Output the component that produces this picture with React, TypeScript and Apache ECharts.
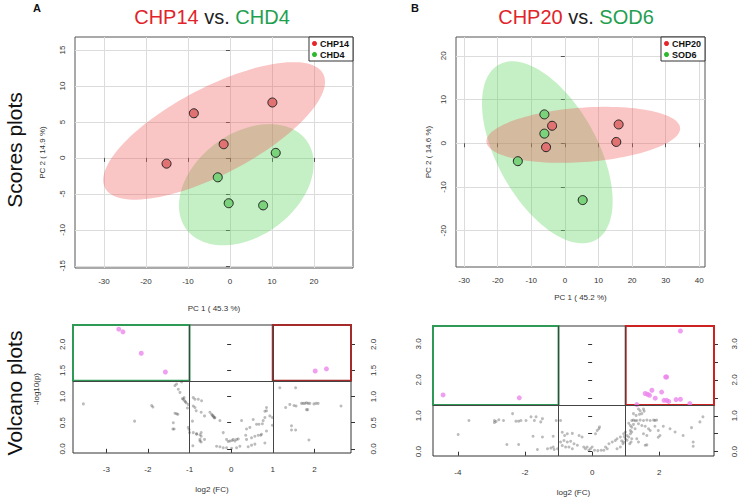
import React, { useEffect, useRef } from 'react';
import * as echarts from 'echarts';

const FONT = '"Liberation Sans", Arial, Helvetica, sans-serif';

// ---- Panel A scores (PC1, PC2) ----
const chp14PC1 = [-15.1, -8.6, -1.5, 10.1];
const chp14PC2 = [-0.8, 6.2, 1.9, 7.7];
const chd4PC1 = [-2.9, 10.9, -0.3, 7.9];
const chd4PC2 = [-2.7, 0.7, -6.3, -6.6];

// ---- Panel B scores (PC1, PC2) ----
const chp20PC1 = [-3.8, -5.6, 16.0, 15.3];
const chp20PC2 = [4.0, -0.9, 4.3, 0.3];
const sod6PC1 = [-6.1, -6.1, -14.0, 5.3];
const sod6PC2 = [6.6, 2.2, -4.1, -13.0];

// ---- Tick values ----
const scoresATicksX = [-30, -20, -10, 0, 10, 20];
const scoresATicksY = [-15, -10, -5, 0, 5, 10, 15];
const scoresBTicksX = [-30, -20, -10, 0, 10, 20, 30, 40];
const scoresBTicksY = [-20, -10, 0, 10, 20];
const volcanoATicksX = [-3, -2, -1, 0, 1, 2];
const volcanoATicksY = [0, 0.5, 1, 1.5, 2];
const volcanoBTicksX = [-4, -2, 0, 2];
const volcanoBTicksY = [0, 0.5, 1, 1.5, 2, 2.5, 3];
const volcanoBLabelsY = [0, 1, 2, 3];

// ---- Volcano A: [log2(FC), -log10(p)] ----
const volcanoAGray = [
  [-3.55, 0.86], [-2.32, 0.53], [-1.91, 0.83], [-1.88, 0.8], [-1.4, 0.38], [-1.39, 0.5], [-1.35, 1.21], [-1.31, 1.24],
  [-1.31, 0.67], [-1.28, 0.66], [-1.27, 1.14], [-1.23, 1.08], [-1.19, 1.28], [-1.35, 0.68], [-1.15, 0.95], [-1.12, 0.92],
  [-1.08, 0.88], [-1.03, 0.85], [-1.37, 0.38], [-1.03, 0.41], [-1.01, 0.37], [-1.0, 0.31], [-1.17, 0.96], [-1.13, 0.98],
  [-1.1, 0.9], [-1.05, 0.78], [-0.91, 0.98], [-0.87, 0.95], [-0.79, 0.95], [-0.71, 0.92], [-0.91, 0.82], [-0.87, 0.79],
  [-0.84, 0.73], [-0.72, 0.7], [-0.64, 0.63], [-0.51, 0.7], [-0.47, 0.66], [-0.45, 0.64], [-0.43, 0.63], [-0.42, 0.61],
  [-0.4, 0.59], [-0.39, 0.6], [-0.27, 0.54], [-0.93, 0.53], [-0.91, 0.31], [-0.83, 0.28], [-0.75, 0.27], [-0.72, 0.31],
  [-0.83, 0.29], [-0.72, 0.24], [-0.75, 0.15], [-0.75, 0.18], [-0.72, 0.13], [-0.64, 0.18], [-0.92, 0.06], [-0.19, 0.31],
  [-0.11, 0.18], [-0.07, 0.14], [-0.03, 0.15], [0.02, 0.16], [0.05, 0.18], [0.09, 0.15], [0.13, 0.18], [0.17, 0.19],
  [-0.35, 0.05], [-0.27, 0.04], [-0.19, 0.02], [-0.11, 0.02], [0.01, 0.01], [0.13, 0.02], [0.21, 0.05], [0.25, 0.54],
  [0.37, 0.38], [0.45, 0.41], [0.35, 0.26], [0.37, 0.18], [0.49, 0.21], [0.57, 0.24], [0.65, 0.26], [0.71, 0.26],
  [0.73, 0.28], [0.41, 0.04], [0.49, 0.07], [0.57, 0.09], [0.53, 0.56], [0.61, 0.47], [0.67, 0.47], [0.75, 0.48],
  [0.77, 0.54], [0.81, 0.6], [0.81, 0.72], [0.85, 0.73], [0.85, 0.79], [0.93, 0.63], [0.85, 0.34], [0.81, 0.11],
  [0.99, 0.45], [0.99, 0.6], [1.17, 1.17], [1.55, 1.17], [1.31, 0.79], [1.41, 0.85], [1.51, 0.83], [1.56, 0.82],
  [1.69, 0.87], [1.73, 0.87], [1.77, 0.87], [1.81, 0.88], [1.85, 0.87], [1.89, 0.87], [1.81, 0.75], [1.84, 0.75],
  [1.99, 0.86], [2.04, 0.87], [2.09, 0.87], [2.64, 0.82], [1.45, 0.44], [1.45, 0.36], [1.55, 0.36], [1.87, 0.17],
];
const volcanoASig = [[-2.7, 2.29], [-2.6, 2.24], [-2.16, 1.83], [-1.58, 1.47], [2.02, 1.49], [2.29, 1.53]];

// ---- Volcano B: [log2(FC), -log10(p)] ----
const volcanoBGray = [
  [-3.99, 0.48], [-3.67, 0.87], [-2.91, 0.87], [-2.86, 0.84], [-2.78, 0.89], [-2.64, 0.87], [-2.91, 0.81], [-2.54, 0.2],
  [-2.37, 1.06], [-2.27, 0.85], [-2.19, 0.85], [-2.12, 0.87], [-2.19, 0.2], [-1.97, 0.87], [-1.82, 0.97], [-1.72, 0.87],
  [-1.67, 0.97], [-1.53, 0.83], [-1.48, 0.92], [-1.76, 0.43], [-1.48, 0.41], [-1.63, 0.06], [-1.16, 0.43], [-1.33, 0.08],
  [-1.23, 0.1], [-1.16, 0.13], [-1.13, 0.06], [-1.07, 0.87], [-0.94, 0.87], [-1.03, 0.08],
  [-0.89, 0.54], [-0.82, 0.45], [-0.74, 0.5], [-0.59, 0.51], [-0.94, 0.27], [-0.84, 0.31], [-0.74, 0.27], [-0.64, 0.29],
  [-0.54, 0.22], [-0.44, 0.18], [-0.69, 0.13], [-0.59, 0.08], [-0.79, 0.13], [-0.89, 0.17], [-0.39, 0.45], [-0.3, 0.41],
  [-0.25, 0.13], [-0.2, 0.08], [-0.15, 0.13], [-0.1, 0.04], [-0.05, 0.08], [0.0, 0.13], [0.1, 0.5], [0.15, 0.59],
  [0.2, 0.64], [0.22, 0.69], [0.07, 0.04], [0.17, 0.03], [0.27, 0.04], [0.4, 0.13], [0.5, 0.22], [0.6, 0.27],
  [0.69, 0.31], [0.35, 0.04], [0.45, 0.08], [0.74, 0.36], [0.84, 0.41], [0.94, 0.5], [0.99, 0.55], [0.94, 0.27],
  [0.99, 0.36], [0.74, 0.08], [0.84, 0.13], [0.92, 0.22], [0.96, 0.42], [0.88, 0.3],
  [1.38, 1.19], [1.43, 1.14], [1.23, 1.06], [1.31, 1.01], [1.41, 1.04], [1.48, 1.06], [1.53, 1.19], [1.55, 1.13],
  [1.18, 0.87], [1.23, 0.88], [1.28, 0.86], [1.33, 0.87], [1.43, 0.88], [1.53, 0.87], [1.63, 0.88], [1.73, 0.87],
  [1.83, 0.88], [1.87, 0.87], [1.92, 0.88], [1.09, 0.79], [1.14, 0.73], [1.18, 0.68], [1.23, 0.76], [1.28, 0.64],
  [1.14, 0.59], [1.18, 0.55], [1.04, 0.45], [1.09, 0.41], [1.14, 0.5], [1.18, 0.36], [1.04, 0.32], [1.12, 0.22],
  [1.16, 0.27], [1.38, 0.78], [1.48, 0.73], [1.58, 0.71], [1.68, 0.64], [1.73, 0.59], [1.87, 0.71], [1.97, 0.59],
  [2.12, 0.71], [2.32, 0.64], [2.47, 0.55], [2.71, 0.45], [2.96, 0.67], [3.21, 0.83], [3.3, 0.97], [3.01, 0.27],
  [3.01, 0.15], [1.33, 0.36], [1.38, 0.27], [1.53, 0.5], [1.63, 0.45], [1.97, 0.4], [1.63, 0.19], [1.58, 0.18],
  [2.02, 0.45],
];
const volcanoBSig = [
  [-4.44, 1.58], [-2.17, 1.5], [2.63, 3.36], [2.19, 2.08], [2.22, 2.08], [1.58, 1.62], [1.65, 1.6], [1.71, 1.57],
  [1.78, 1.71], [1.88, 1.49], [2.07, 1.66], [2.14, 1.43], [2.22, 1.43], [2.28, 1.4], [2.5, 1.45], [2.63, 1.46],
  [2.91, 1.34], [1.33, 1.31],
];

const FC_CUT = 1; // |log2 FC| threshold
const P_CUT = 1.301; // -log10(0.05)
const CHI2_95_DF2 = 5.991;

// axis ranges (plot region)
const rangeA = { xMin: -36.9, xMax: 29.3, yMin: -15.3, yMax: 16.8 };
const rangeB = { xMin: -32.4, xMax: 41.7, yMin: -28.3, yMax: 24.3 };
const rangeVA = { xMin: -3.8, xMax: 2.88, yMin: -0.08, yMax: 2.37 };
const rangeVB = { xMin: -4.74, xMax: 3.63, yMin: -0.12, yMax: 3.5 };

function confEllipse(xs: number[], ys: number[], n = 120): number[][] {
  const k = xs.length;
  const mx = xs.reduce((a, b) => a + b, 0) / k;
  const my = ys.reduce((a, b) => a + b, 0) / k;
  let sxx = 0, syy = 0, sxy = 0;
  for (let i = 0; i < k; i++) {
    const dx = xs[i] - mx, dy = ys[i] - my;
    sxx += dx * dx; syy += dy * dy; sxy += dx * dy;
  }
  sxx /= k - 1; syy /= k - 1; sxy /= k - 1;
  const tr = sxx + syy, det = sxx * syy - sxy * sxy;
  const disc = Math.sqrt(Math.max(tr * tr / 4 - det, 0));
  const l1 = tr / 2 + disc, l2 = tr / 2 - disc;
  const th = Math.atan2(l1 - sxx, sxy);
  const a = Math.sqrt(CHI2_95_DF2 * l1), b = Math.sqrt(CHI2_95_DF2 * Math.max(l2, 0));
  const pts: number[][] = [];
  for (let i = 0; i < n; i++) {
    const t = (2 * Math.PI * i) / n;
    const ex = a * Math.cos(t), ey = b * Math.sin(t);
    pts.push([mx + ex * Math.cos(th) - ey * Math.sin(th), my + ex * Math.sin(th) + ey * Math.cos(th)]);
  }
  return pts;
}

const zip = (a: number[], b: number[]) => a.map((v, i) => [v, b[i]]);

export default function App() {
  const ref = useRef<HTMLDivElement>(null);
  useEffect(() => {
    if (!ref.current) return;
    const chart = echarts.init(ref.current, undefined, { renderer: 'svg' });

    const tickLabel = { fontSize: 8, color: '#333', fontFamily: FONT };
    const nameStyle = { fontSize: 8, color: '#333', fontFamily: FONT };

    const scoreX = (gi: number, r: any, ticks: number[], name: string, gap: number) => ({
      type: 'value', gridIndex: gi, min: r.xMin, max: r.xMax,
      name, nameLocation: 'middle', nameGap: gap, nameTextStyle: nameStyle,
      axisLine: { show: false },
      axisTick: { show: true, length: 4, customValues: ticks, lineStyle: { color: '#555' } },
      axisLabel: { customValues: ticks, margin: 9, ...tickLabel },
      splitLine: { show: true, lineStyle: { color: '#dcdcdc', width: 1 } },
    });
    const scoreY = (gi: number, r: any, ticks: number[], name: string, gap: number, margin: number) => ({
      type: 'value', gridIndex: gi, min: r.yMin, max: r.yMax,
      name, nameLocation: 'middle', nameGap: gap, nameTextStyle: nameStyle,
      axisLine: { show: false },
      axisTick: { show: true, length: 4, customValues: ticks, lineStyle: { color: '#555' } },
      axisLabel: { customValues: ticks, rotate: 90, margin, ...tickLabel },
      splitLine: { show: true, lineStyle: { color: '#dcdcdc', width: 1 } },
    });
    const volX = (gi: number, r: any, ticks: number[]) => ({
      type: 'value', gridIndex: gi, min: r.xMin, max: r.xMax,
      name: 'log2 (FC)', nameLocation: 'middle', nameGap: 32, nameTextStyle: nameStyle,
      axisLine: { show: false },
      axisTick: { show: true, length: 4, customValues: ticks, lineStyle: { color: '#333' } },
      axisLabel: { customValues: ticks, margin: 12, ...tickLabel },
      splitLine: { show: false },
    });
    const volY = (gi: number, r: any, ticks: number[], labels: number[], pos: string, name: string, margin: number) => ({
      type: 'value', gridIndex: gi, min: r.yMin, max: r.yMax, position: pos,
      name, nameLocation: 'middle', nameGap: 33, nameTextStyle: nameStyle,
      axisLine: { show: false },
      axisTick: { show: true, length: 4, customValues: ticks, lineStyle: { color: '#333' } },
      axisLabel: { customValues: labels, rotate: 90, margin, formatter: (v: number) => v.toFixed(1), ...tickLabel },
      splitLine: { show: false },
    });

    const ellipseSeries = (xi: number, xs: number[], ys: number[], fill: string) => {
      const pts = confEllipse(xs, ys);
      return {
        type: 'custom', xAxisIndex: xi, yAxisIndex: xi, z: 1, silent: true,
        data: [[xs[0], ys[0]]],
        renderItem: (_p: any, api: any) => ({
          type: 'polygon',
          shape: { points: pts.map((p) => api.coord(p)) },
          style: { fill, stroke: 'none' },
        }),
      };
    };
    const scoreSeries = (xi: number, name: string, xs: number[], ys: number[], fill: string) => ({
      type: 'scatter', name, xAxisIndex: xi, yAxisIndex: xi, z: 3, symbolSize: 9,
      data: zip(xs, ys),
      itemStyle: { color: fill, borderColor: '#222', borderWidth: 1, opacity: 1 },
    });

    const volSeries = (xi: number, yi: number, gray: number[][], sig: number[][], r: any, redBox: string) => [
      {
        type: 'scatter', xAxisIndex: xi, yAxisIndex: yi, symbolSize: 3, z: 3, silent: true,
        data: gray, itemStyle: { color: 'rgba(70,70,70,0.45)' },
        markLine: {
          silent: true, symbol: ['none', 'none'], label: { show: false },
          lineStyle: { color: '#444', width: 1, type: 'solid' },
          data: [{ xAxis: -FC_CUT }, { xAxis: FC_CUT }, { yAxis: P_CUT }],
        },
      },
      {
        type: 'scatter', xAxisIndex: xi, yAxisIndex: yi, symbolSize: 5, z: 4, silent: true,
        data: sig, itemStyle: { color: '#ec86ec' },
        markArea: {
          silent: true, label: { show: false },
          data: [
            [
              { coord: [r.xMin, P_CUT], itemStyle: { color: 'rgba(0,0,0,0)', borderColor: '#2e9a55', borderWidth: 2 } },
              { coord: [-FC_CUT, r.yMax] },
            ],
            [
              { coord: [FC_CUT, P_CUT], itemStyle: { color: 'rgba(0,0,0,0)', borderColor: redBox, borderWidth: 2 } },
              { coord: [r.xMax, r.yMax] },
            ],
          ],
        },
      },
    ];

    const legendCommon = {
      orient: 'vertical', icon: 'circle', itemWidth: 5, itemHeight: 5, itemGap: 2,
      padding: [2, 4, 2, 3], borderColor: '#333', borderWidth: 1, backgroundColor: '#fff',
      selectedMode: false,
      textStyle: { fontSize: 9, fontWeight: 'bold', color: '#111', fontFamily: FONT, padding: [0, 0, 0, -2] },
    };

    const title = (x: number, a: string, b: string) => ({
      type: 'text', x, y: 17,
      style: {
        text: `{r|${a}} {k|vs.} {g|${b}}`,
        align: 'center', verticalAlign: 'middle', fontSize: 20, fontFamily: FONT,
        rich: {
          r: { fill: '#e1232a', fontSize: 20, fontFamily: FONT },
          k: { fill: '#222', fontSize: 20, fontFamily: FONT },
          g: { fill: '#1fa050', fontSize: 20, fontFamily: FONT },
        },
      },
    });

    chart.setOption({
      animation: false,
      backgroundColor: '#fff',
      textStyle: { fontFamily: FONT },
      grid: [
        { left: 75, top: 37, width: 278, height: 231, show: true, borderColor: '#555', borderWidth: 1, backgroundColor: 'transparent' },
        { left: 456, top: 37, width: 249, height: 230, show: true, borderColor: '#555', borderWidth: 1, backgroundColor: 'transparent' },
        { left: 73, top: 325, width: 278, height: 128, show: true, borderColor: '#333', borderWidth: 1, backgroundColor: 'transparent' },
        { left: 433, top: 326, width: 283, height: 130, show: true, borderColor: '#333', borderWidth: 1, backgroundColor: 'transparent' },
      ],
      xAxis: [
        scoreX(0, rangeA, scoresATicksX, 'PC 1 ( 45.3 %)', 36),
        scoreX(1, rangeB, scoresBTicksX, 'PC 1 ( 45.2 %)', 26),
        volX(2, rangeVA, volcanoATicksX),
        volX(3, rangeVB, volcanoBTicksX),
      ],
      yAxis: [
        scoreY(0, rangeA, scoresATicksY, 'PC 2 ( 14.9 %)', 29, 9),
        scoreY(1, rangeB, scoresBTicksY, 'PC 2 ( 14.6 %)', 24, 9),
        volY(2, rangeVA, volcanoATicksY, volcanoATicksY, 'left', '-log10(p)', 7),
        volY(2, rangeVA, volcanoATicksY, volcanoATicksY, 'right', '', 18),
        volY(3, rangeVB, volcanoBTicksY, volcanoBLabelsY, 'left', '', 11),
        volY(3, rangeVB, volcanoBTicksY, volcanoBLabelsY, 'right', '', 16),
      ],
      legend: [
        {
          ...legendCommon, right: 738 - 353, top: 37,
          data: [
            { name: 'CHP14', itemStyle: { color: '#e8262a', borderWidth: 0 } },
            { name: 'CHD4', itemStyle: { color: '#2db82d', borderWidth: 0 } },
          ],
        },
        {
          ...legendCommon, right: 738 - 705, top: 37,
          data: [
            { name: 'CHP20', itemStyle: { color: '#e8262a', borderWidth: 0 } },
            { name: 'SOD6', itemStyle: { color: '#2db82d', borderWidth: 0 } },
          ],
        },
      ],
      series: [
        ellipseSeries(0, chd4PC1, chd4PC2, 'rgba(90,210,90,0.35)'),
        ellipseSeries(0, chp14PC1, chp14PC2, 'rgba(240,90,90,0.35)'),
        scoreSeries(0, 'CHP14', chp14PC1, chp14PC2, '#e07272'),
        scoreSeries(0, 'CHD4', chd4PC1, chd4PC2, '#7ad27a'),
        ellipseSeries(1, sod6PC1, sod6PC2, 'rgba(90,210,90,0.35)'),
        ellipseSeries(1, chp20PC1, chp20PC2, 'rgba(240,90,90,0.35)'),
        scoreSeries(1, 'CHP20', chp20PC1, chp20PC2, '#e07272'),
        scoreSeries(1, 'SOD6', sod6PC1, sod6PC2, '#7ad27a'),
        ...volSeries(2, 2, volcanoAGray, volcanoASig, rangeVA, '#a52a2a'),
        ...volSeries(3, 4, volcanoBGray, volcanoBSig, rangeVB, '#cc2222'),
      ],
      graphic: [
        { type: 'text', x: 37, y: 8, style: { text: 'A', fontSize: 11, fontWeight: 'bold', fill: '#111', fontFamily: FONT, align: 'center', verticalAlign: 'middle' } },
        { type: 'text', x: 415, y: 8, style: { text: 'B', fontSize: 11, fontWeight: 'bold', fill: '#111', fontFamily: FONT, align: 'center', verticalAlign: 'middle' } },
        title(212, 'CHP14', 'CHD4'),
        title(576, 'CHP20', 'SOD6'),
        { type: 'text', x: 14, y: 150, rotation: Math.PI / 2, style: { text: 'Scores plots', fontSize: 21, fill: '#111', fontFamily: FONT, align: 'center', verticalAlign: 'middle' } },
        { type: 'text', x: 14, y: 393, rotation: Math.PI / 2, style: { text: 'Volcano plots', fontSize: 21, fill: '#111', fontFamily: FONT, align: 'center', verticalAlign: 'middle' } },
      ],
    });
    return () => chart.dispose();
  }, []);
  return <div ref={ref} style={{ position: 'absolute', left: 0, top: 0, width: 738, height: 500, background: '#fff' }} />;
}
